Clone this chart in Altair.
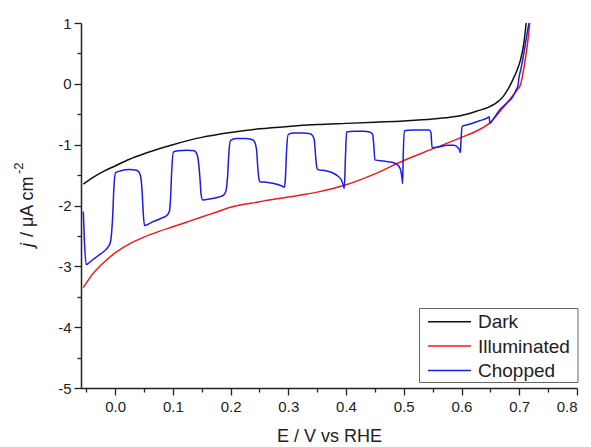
import altair as alt
import pandas as pd

# Potential (V vs RHE) and current density (uA cm^-2) for each sweep
dark_E = [-0.055, -0.04, -0.02, 0.0, 0.025, 0.05, 0.075, 0.1, 0.15, 0.2, 0.25, 0.3,
          0.35, 0.4, 0.45, 0.5, 0.55, 0.58, 0.6, 0.626, 0.65, 0.662, 0.672, 0.681,
          0.689, 0.696, 0.702, 0.708, 0.712]
dark_j = [-1.65, -1.55, -1.44, -1.35, -1.24, -1.15, -1.07, -1.0, -0.88, -0.80, -0.74, -0.70,
          -0.67, -0.65, -0.63, -0.61, -0.58, -0.55, -0.52, -0.45, -0.37, -0.30, -0.21, -0.08,
          0.07, 0.22, 0.39, 0.67, 1.0]

illum_E = [-0.055, -0.04, -0.02, 0.0, 0.025, 0.05, 0.075, 0.1, 0.125, 0.15, 0.175, 0.2,
           0.25, 0.3, 0.35, 0.4, 0.45, 0.5, 0.55, 0.6, 0.625, 0.648, 0.666, 0.68, 0.69,
           0.698, 0.702, 0.706, 0.712, 0.716, 0.718]
illum_j = [-3.35, -3.14, -2.94, -2.78, -2.63, -2.52, -2.43, -2.35, -2.27, -2.19, -2.11, -2.03,
           -1.94, -1.86, -1.78, -1.66, -1.48, -1.26, -1.07, -0.88, -0.78, -0.65, -0.46, -0.30, -0.18,
           -0.08, -0.02, 0.15, 0.50, 0.80, 1.0]

chop_E = [-0.055, -0.053, -0.050, -0.040, -0.030, -0.020, -0.012, -0.008, -0.006, -0.004,
          -0.002, 0.001, 0.010, 0.025, 0.037, 0.042, 0.045, 0.047, 0.049, 0.051,
          0.065, 0.080, 0.090, 0.094, 0.096, 0.098, 0.101, 0.110, 0.125, 0.137,
          0.141, 0.144, 0.147, 0.149, 0.152, 0.165, 0.180, 0.188, 0.192, 0.195,
          0.197, 0.200, 0.210, 0.225, 0.238, 0.242, 0.245, 0.247, 0.249, 0.251,
          0.265, 0.280, 0.289, 0.293, 0.295, 0.297, 0.300, 0.310, 0.325, 0.338,
          0.342, 0.345, 0.347, 0.349, 0.351, 0.365, 0.378, 0.386, 0.392, 0.395,
          0.397, 0.399, 0.401, 0.415, 0.430, 0.441, 0.446, 0.448, 0.450, 0.465,
          0.480, 0.489, 0.494, 0.497, 0.498, 0.499, 0.501, 0.515, 0.530, 0.544,
          0.547, 0.549, 0.560, 0.575, 0.587, 0.594, 0.597, 0.598, 0.599, 0.601,
          0.615, 0.630, 0.645, 0.648, 0.649, 0.655, 0.666, 0.678, 0.689, 0.695,
          0.698, 0.699, 0.703, 0.706, 0.710, 0.714, 0.717]
chop_j = [-2.10, -2.60, -2.97, -2.90, -2.83, -2.76, -2.68, -2.60, -2.45, -2.15,
          -1.70, -1.46, -1.43, -1.41, -1.42, -1.46, -1.56, -1.80, -2.15, -2.33,
          -2.27, -2.21, -2.16, -2.10, -1.90, -1.45, -1.12, -1.10, -1.09, -1.10,
          -1.14, -1.25, -1.55, -1.82, -1.91, -1.89, -1.86, -1.83, -1.76, -1.50,
          -1.15, -0.93, -0.90, -0.90, -0.92, -0.96, -1.08, -1.35, -1.55, -1.61,
          -1.62, -1.65, -1.68, -1.70, -1.55, -1.10, -0.83, -0.81, -0.81, -0.82,
          -0.85, -0.92, -1.15, -1.35, -1.41, -1.43, -1.47, -1.52, -1.58, -1.66,
          -1.72, -1.20, -0.79, -0.78, -0.78, -0.79, -0.83, -1.00, -1.25, -1.27,
          -1.29, -1.33, -1.40, -1.55, -1.64, -1.20, -0.77, -0.76, -0.76, -0.76,
          -0.80, -1.05, -1.04, -1.01, -1.01, -1.05, -1.10, -1.13, -0.95, -0.70,
          -0.66, -0.61, -0.56, -0.54, -0.65, -0.58, -0.43, -0.32, -0.21, -0.09,
          -0.02, 0.07, 0.25, 0.40, 0.62, 0.85, 1.0]

series = ["Dark", "Illuminated", "Chopped"]
colors = ["#111111", "#ec1c1c", "#1c1ce6"]

frames = []
for name, E, j in [("Dark", dark_E, dark_j), ("Illuminated", illum_E, illum_j),
                   ("Chopped", chop_E, chop_j)]:
    frames.append(pd.DataFrame({"E": E, "j": j, "series": name}))
df = pd.concat(frames, ignore_index=True)

FONT = "Liberation Sans"
INK = "#222222"

x_ticks = [round(-0.05 + 0.05 * i, 2) for i in range(18)]
y_ticks = [round(-5 + 0.5 * i, 1) for i in range(13)]
x_major = "abs(round(datum.value * 20)) % 2 == 0"
y_major = "datum.value % 1 == 0"

curves = alt.Chart(df).mark_line(strokeWidth=1.5, interpolate="monotone", clip=True).encode(
    x=alt.X("E:Q",
            scale=alt.Scale(domain=[-0.059, 0.8], nice=False, zero=False),
            axis=alt.Axis(values=x_ticks, title="E / V vs RHE",
                          labelExpr=f"{x_major} ? format(datum.value, '.1f') : ''",
                          tickSize={"condition": {"test": x_major, "value": 7}, "value": 4},
                          labelPadding=4, titlePadding=13)),
    y=alt.Y("j:Q",
            scale=alt.Scale(domain=[-5, 1], nice=False, zero=False),
            axis=alt.Axis(values=y_ticks, title=None,
                          labelExpr=f"{y_major} ? '' + datum.value : ''",
                          tickSize={"condition": {"test": y_major, "value": 7}, "value": 4},
                          labelPadding=3)),
    color=alt.Color("series:N", scale=alt.Scale(domain=series, range=colors), legend=None),
    detail="series:N",
)

one = pd.DataFrame({"k": [0]})

# y-axis title built from pieces: italic j, units, superscript
ytitle_j = alt.Chart(one).mark_text(
    text="j", angle=270, align="left", baseline="alphabetic", font=FONT,
    fontSize=18, fontStyle="italic", color=INK
).encode(x=alt.value(-48), y=alt.value(224))
ytitle_units = alt.Chart(one).mark_text(
    text="/ μA cm", angle=270, align="left", baseline="alphabetic", font=FONT,
    fontSize=18, color=INK
).encode(x=alt.value(-48), y=alt.value(214))
ytitle_sup = alt.Chart(one).mark_text(
    text="-2", angle=270, align="left", baseline="alphabetic", font=FONT,
    fontSize=13, color=INK
).encode(x=alt.value(-58), y=alt.value(151))

# legend box with line samples and labels
legend_box = alt.Chart(one).mark_rect(fill="white", stroke="#666666", strokeWidth=1).encode(
    x=alt.value(338.5), x2=alt.value(497), y=alt.value(285.5), y2=alt.value(359.5))
legend_layers = [legend_box]
for i, (name, col) in enumerate(zip(series, colors)):
    yy = 298.7 + i * 24.4
    legend_layers.append(alt.Chart(one).mark_rule(color=col, strokeWidth=1.5).encode(
        x=alt.value(347), x2=alt.value(390), y=alt.value(yy)))
    legend_layers.append(alt.Chart(one).mark_text(
        text=name, align="left", baseline="middle", font=FONT, fontSize=19, color=INK
    ).encode(x=alt.value(397), y=alt.value(yy + 0.5)))

chart = alt.layer(curves, ytitle_j, ytitle_units, ytitle_sup, *legend_layers).properties(
    width=496, height=365,
    autosize=alt.AutoSizeParams(type="none"),
    padding={"left": 81, "top": 23, "right": 14, "bottom": 59},
    background="white",
).configure_view(stroke=None).configure_axis(
    grid=False, domainColor=INK, domainWidth=1.5, tickColor=INK, tickWidth=1.3,
    labelFont=FONT, labelFontSize=15, labelColor=INK,
    titleFont=FONT, titleFontSize=18, titleFontWeight="normal", titleColor=INK,
)

chart.save("out.html", embed_options={"renderer": "svg", "actions": False})
